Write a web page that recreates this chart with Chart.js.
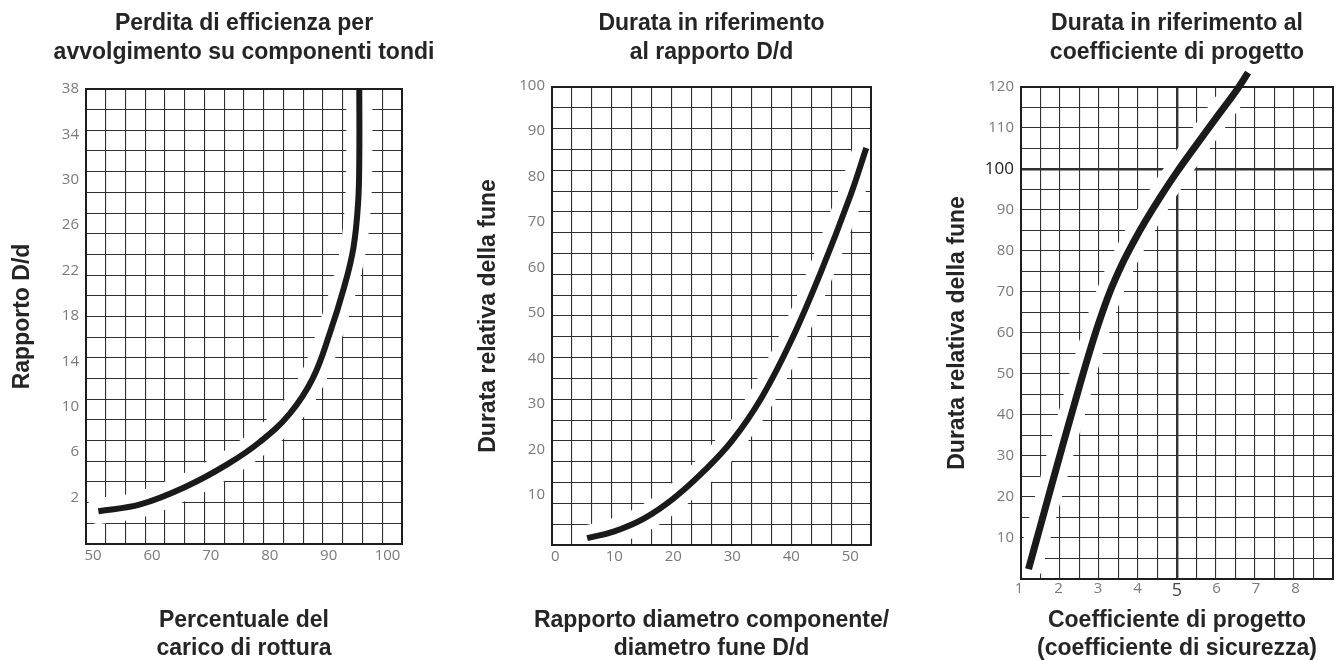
<!DOCTYPE html>
<html>
<head>
<meta charset="utf-8">
<script src="https://cdn.jsdelivr.net/npm/chart.js@4.4.1/dist/chart.umd.min.js"></script>
<style>
html,body{margin:0;padding:0;background:#fff;overflow:hidden;}
#wrap{position:relative;width:1340px;height:660px;overflow:hidden;background:#fff;}
#wrap canvas{position:absolute;top:0;}
</style>
</head>
<body>
<div id="wrap">
<canvas id="c1" width="488" height="664" style="left:0px"></canvas>
<canvas id="c2" width="491" height="664" style="left:466px"></canvas>
<canvas id="c3" width="484" height="664" style="left:935px"></canvas>
</div>
<script>
// ---------- Chart 1 data ----------
const chart1Title = ['Perdita di efficienza per', 'avvolgimento su componenti tondi'];
const chart1XTitle = ['Percentuale del', 'carico di rottura'];
const chart1YTitle = 'Rapporto D/d';
const chart1XTicks = [50, 60, 70, 80, 90, 100];
const chart1YTicks = [2, 6, 10, 14, 18, 22, 26, 30, 34, 38];
const chart1X = [50.9, 58.0, 65.9, 72.7, 78.3, 83.4, 87.3, 90.2, 92.6, 94.2, 95.0, 95.2, 95.2];
const chart1Y = [0.8, 1.4, 3.0, 4.9, 6.9, 9.4, 12.5, 16.5, 20.5, 24.0, 28.0, 32.0, 38.0];

// ---------- Chart 2 data ----------
const chart2Title = ['Durata in riferimento', 'al rapporto D/d'];
const chart2XTitle = ['Rapporto diametro componente/', 'diametro fune D/d'];
const chart2YTitle = 'Durata relativa della fune';
const chart2XTicks = [0, 10, 20, 30, 40, 50];
const chart2YTicks = [10, 20, 30, 40, 50, 60, 70, 80, 90, 100];
const chart2X = [5.4, 10, 15, 20, 25, 30, 35, 40, 45, 50, 52.7];
const chart2Y = [0.5, 2.0, 4.8, 9.2, 15.0, 22.0, 31.5, 44.0, 59.0, 75.8, 86.3];

// ---------- Chart 3 data ----------
const chart3Title = ['Durata in riferimento al', 'coefficiente di progetto'];
const chart3XTitle = ['Coefficiente di progetto', '(coefficiente di sicurezza)'];
const chart3YTitle = 'Durata relativa della fune';
const chart3XTicks = [1, 2, 3, 4, 5, 6, 7, 8];
const chart3YTicks = [10, 20, 30, 40, 50, 60, 70, 80, 90, 100, 110, 120];
const chart3X = [1.24, 1.5, 1.8, 2.1, 2.4, 2.7, 3.0, 3.3, 3.6, 3.9, 4.2, 4.6, 5.0, 5.5, 6.0, 6.5, 6.8];
const chart3Y = [2.4, 11.5, 22.0, 32.4, 42.6, 52.6, 61.9, 70.0, 76.6, 82.2, 87.3, 93.5, 99.3, 106.0, 112.6, 119.1, 123.5];

// ---------- styling / layout ----------
const YW = 86, RW = 86;
const TITLE_FONT = {family: 'Liberation Sans', size: 23, weight: 'bold', lineHeight: '29px'};
const SUB_FONT = {family: 'Liberation Sans', size: 23, weight: 'bold', lineHeight: '28px'};
const AXIS_TITLE_FONT = {family: 'Liberation Sans', size: 23, weight: 'bold', lineHeight: '28px'};
const TEXT_COLOR = '#252525';
const TICK_COLOR = '#7a7a7a';
const GRID_COLOR = '#303030';

const framePlugin = {
  id: 'frame',
  afterDatasetDraw(chart, args) {
    if (args.index !== 1) return;
    const a = chart.chartArea, c = chart.ctx;
    c.save();
    c.strokeStyle = '#1e1e1e';
    c.lineWidth = 2;
    c.strokeRect(a.left, a.top, a.right - a.left, a.bottom - a.top);
    c.restore();
  }
};

function gridTicks(n) {
  return (axis) => { const t = []; for (let i = 0; i <= n; i++) t.push({value: i}); axis.ticks = t; };
}

function makeChart(id, d, s) {
  const pts = d.xs.map((x, i) => ({x: x, y: d.ys[i]}));
  const tickFont = (v, emph, base, big) => (emph !== undefined && v === emph)
      ? {family: 'Open Sans', size: big} : {family: 'Open Sans', size: base};
  return new Chart(document.getElementById(id), {
    type: 'line',
    data: {datasets: [
      {data: pts, borderColor: '#1a1a1a', borderWidth: s.lineW, pointRadius: 0, tension: 0.4,
       clip: s.clipLine, borderCapStyle: 'butt', fill: false},
      {data: pts, borderColor: '#ffffff', borderWidth: s.haloW, pointRadius: 0, tension: 0.4,
       clip: 0, borderCapStyle: 'round', fill: false}
    ]},
    options: {
      responsive: false, animation: false, devicePixelRatio: 1, events: [],
      layout: {padding: 0, autoPadding: false},
      plugins: {
        legend: {display: false}, tooltip: {enabled: false},
        title: {display: true, text: d.title, position: 'top', fullSize: true, color: TEXT_COLOR,
                font: TITLE_FONT, padding: {top: 9.5, bottom: s.titleBottom}},
        subtitle: {display: true, text: d.xTitle, position: 'bottom', fullSize: true, color: TEXT_COLOR,
                   font: SUB_FONT, padding: {top: 0, bottom: 1}}
      },
      scales: {
        x: {
          type: 'linear', position: 'bottom', min: s.xMin, max: s.xMax,
          grid: {display: false, drawTicks: false}, border: {display: false},
          ticks: {autoSkip: false, maxRotation: 0, padding: s.xTickPad,
                  color: (c) => (s.xEmph !== undefined && c.tick && c.tick.value === s.xEmph) ? '#444' : TICK_COLOR,
                  font: (c) => tickFont(c.tick && c.tick.value, s.xEmph, s.tickSize, s.tickSize + 3),
                  callback: (v) => String(v)},
          afterBuildTicks: (a) => { a.ticks = d.xTicks.map(v => ({value: v})); },
          afterFit: (a) => { a.height = s.xAxisH; a.paddingLeft = 0; a.paddingRight = 0; }
        },
        y: {
          type: 'linear', position: 'left', min: s.yMin, max: s.yMax,
          grid: {display: false, drawTicks: false}, border: {display: false},
          ticks: {autoSkip: false, padding: 7,
                  color: (c) => (s.yEmph !== undefined && c.tick && c.tick.value === s.yEmph) ? '#222' : TICK_COLOR,
                  font: (c) => tickFont(c.tick && c.tick.value, s.yEmph, s.tickSize, s.tickSize + 2),
                  callback: (v) => String(v)},
          title: {display: true, text: d.yTitle, color: TEXT_COLOR, font: AXIS_TITLE_FONT, padding: {top: 9, bottom: 0}},
          afterBuildTicks: (a) => { a.ticks = d.yTicks.map(v => ({value: v})); },
          afterFit: (a) => { a.width = YW; a.paddingTop = 0; a.paddingBottom = 0; }
        },
        gx: {
          type: 'linear', position: 'top', min: 0, max: s.gridCols,
          ticks: {display: false}, border: {display: false},
          grid: {color: GRID_COLOR, drawTicks: false,
                 lineWidth: (c) => (s.gxBold !== undefined && c.tick && c.tick.value === s.gxBold) ? 2.4 : 1.1},
          afterBuildTicks: gridTicks(s.gridCols),
          afterFit: (a) => { a.height = 0; a.paddingLeft = 0; a.paddingRight = 0; }
        },
        gy: {
          type: 'linear', position: 'right', min: 0, max: s.gridRows,
          ticks: {display: false}, border: {display: false},
          grid: {color: GRID_COLOR, drawTicks: false,
                 lineWidth: (c) => (s.gyBold !== undefined && c.tick && c.tick.value === s.gyBold) ? 2.4 : 1.1},
          afterBuildTicks: gridTicks(s.gridRows),
          afterFit: (a) => { a.width = RW; a.paddingTop = 0; a.paddingBottom = 0; }
        }
      }
    },
    plugins: [framePlugin]
  });
}

makeChart('c1',
  {title: chart1Title, xTitle: chart1XTitle, yTitle: chart1YTitle, xs: chart1X, ys: chart1Y, xTicks: chart1XTicks, yTicks: chart1YTicks},
  {xMin: 48.8, xMax: 102.45, yMin: -2.09, yMax: 38, gridCols: 16, gridRows: 22,
   titleBottom: 21.5, xAxisH: 63, xTickPad: 3, tickSize: 15, lineW: 6, haloW: 26, clipLine: undefined});

makeChart('c2',
  {title: chart2Title, xTitle: chart2XTitle, yTitle: chart2YTitle, xs: chart2X, ys: chart2Y, xTicks: chart2XTicks, yTicks: chart2YTicks},
  {xMin: -0.56, xMax: 53.5, yMin: -1.0, yMax: 99.7, gridCols: 16, gridRows: 22,
   titleBottom: 19.5, xAxisH: 62, xTickPad: 3, tickSize: 15, lineW: 6, haloW: 26, clipLine: undefined});

makeChart('c3',
  {title: chart3Title, xTitle: chart3XTitle, yTitle: chart3YTitle, xs: chart3X, ys: chart3Y, xTicks: chart3XTicks, yTicks: chart3YTicks},
  {xMin: 1.05, xMax: 8.95, yMin: 0, yMax: 120, gridCols: 16, gridRows: 24,
   titleBottom: 19.5, xAxisH: 28, xTickPad: 1, tickSize: 15, lineW: 7, haloW: 26, clipLine: false,
   xEmph: 5, yEmph: 100, gxBold: 8, gyBold: 20});
</script>
</body>
</html>
